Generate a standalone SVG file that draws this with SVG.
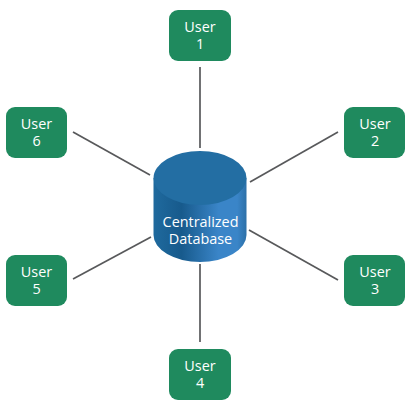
<svg xmlns="http://www.w3.org/2000/svg" width="411" height="409" viewBox="0 0 411 409">
<style>
.n{fill:#1f8a5e}
.t{font-family:"Open Sans",sans-serif;font-size:14.4px;fill:#fff;text-anchor:middle}
.c{stroke:#58595b;stroke-width:1.7;fill:none}
</style>
<defs>
<linearGradient id="g" x1="0" x2="1" y1="0" y2="0">
<stop offset="0" stop-color="#1f6a9e"/>
<stop offset="0.3" stop-color="#175a8c"/>
<stop offset="0.7" stop-color="#3a85c8"/>
<stop offset="0.9" stop-color="#3a85c8"/>
<stop offset="1" stop-color="#2c70a8"/>
</linearGradient>
</defs>
<rect width="411" height="409" fill="#fff"/>
<g id="connectors">
<line class="c" x1="200" y1="67" x2="200" y2="148"/>
<line class="c" x1="200" y1="264" x2="200" y2="342"/>
<line class="c" x1="73" y1="132" x2="150" y2="175"/>
<line class="c" x1="338" y1="132" x2="250" y2="182"/>
<line class="c" x1="249" y1="230" x2="338" y2="280"/>
<line class="c" x1="151" y1="237" x2="73" y2="279"/>
</g>
<g id="database">
<path d="M153.500 178V235A46.500 27 0 0 0 246.500 235V178Z" fill="url(#g)"/>
<ellipse cx="200" cy="178" rx="46.500" ry="27" fill="#236ea3"/>
<text class="t"><tspan x="200.500" y="227">Centralized</tspan><tspan x="200.500" y="244">Database</tspan></text>
</g>
<g id="user1"><rect class="n" x="169" y="10" width="62" height="51" rx="9"/><text class="t"><tspan x="200" y="31.500">User</tspan><tspan x="200" y="48.500">1</tspan></text></g>
<g id="user2"><rect class="n" x="344" y="107" width="61" height="51" rx="9"/><text class="t"><tspan x="375" y="128.500">User</tspan><tspan x="375" y="145.500">2</tspan></text></g>
<g id="user3"><rect class="n" x="344" y="255" width="61" height="51" rx="9"/><text class="t"><tspan x="375" y="276.500">User</tspan><tspan x="375" y="293.500">3</tspan></text></g>
<g id="user4"><rect class="n" x="169" y="349" width="62" height="51" rx="9"/><text class="t"><tspan x="200" y="370.500">User</tspan><tspan x="200" y="387.500">4</tspan></text></g>
<g id="user5"><rect class="n" x="6" y="255" width="61" height="51" rx="9"/><text class="t"><tspan x="36.500" y="276.500">User</tspan><tspan x="36.500" y="293.500">5</tspan></text></g>
<g id="user6"><rect class="n" x="6" y="107" width="61" height="51" rx="9"/><text class="t"><tspan x="36.500" y="128.500">User</tspan><tspan x="36.500" y="145.500">6</tspan></text></g>
</svg>
